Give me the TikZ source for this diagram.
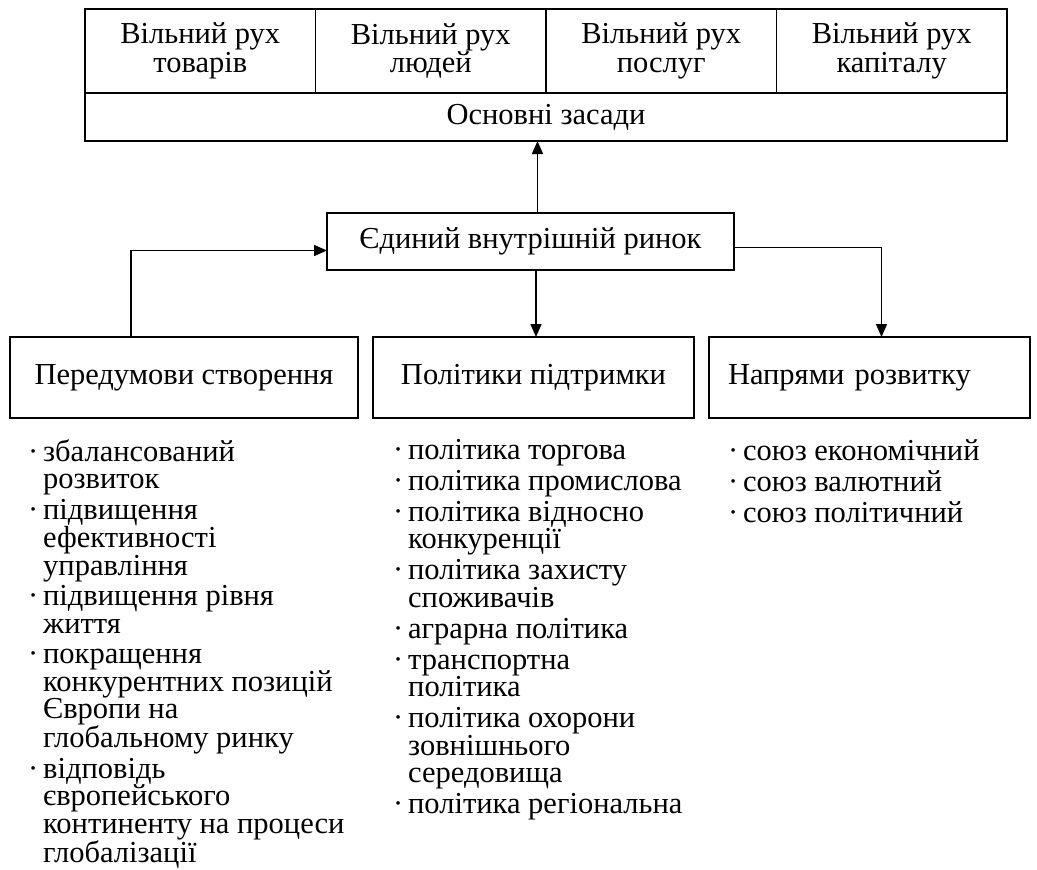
\documentclass[tikz,border=0pt]{standalone}
\usepackage{fontspec}
\setmainfont{Liberation Serif}
\usepackage{tikz}
\usetikzlibrary{arrows.meta, positioning, calc}
\newcommand{\txtsize}{\fontsize{30.5pt}{27.5pt}\selectfont}
\newcommand{\ldot}{\makebox[15pt][l]{·}}
\newcommand{\lgap}{\hspace*{15pt}}
\tikzset{
    cell/.style={rectangle, draw, line width=1.6pt, outer sep=0pt, inner sep=0pt, minimum width=230.5pt, minimum height=84pt, align=center, font=\txtsize},
    baserow/.style={rectangle, draw, line width=1.6pt, outer sep=0pt, inner sep=0pt, minimum width=922pt, minimum height=48pt, font=\txtsize},
    hub/.style={rectangle, draw, line width=1.6pt, outer sep=0pt, minimum width=407pt, minimum height=57pt, font=\txtsize},
    branch/.style={rectangle, draw, line width=1.6pt, outer sep=0pt, minimum width=321pt, minimum height=81pt, font=\txtsize},
    items/.style={inner sep=0pt, align=left, font=\txtsize},
    arrow/.style={-{Triangle[length=13pt, width=11pt]}, line width=1.5pt},
}

\begin{document}
\begin{tikzpicture}[x=1pt, y=-1pt]
    \useasboundingbox (0,0) rectangle (1037,870);

    % Four freedoms
    \node[cell, anchor=north west] (goods) at (85,9) {Вільний рух\\[1pt]товарів};
    \node[cell, right=0pt of goods] (people) {Вільний рух\\[1pt]людей};
    \node[cell, right=0pt of people] (services) {Вільний рух\\[1pt]послуг};
    \node[cell, right=0pt of services] (capital) {Вільний рух\\[1pt]капіталу};
    \node[baserow, below=0pt of goods.south west, anchor=north west] (basis) {Основні засади};

    % Single market
    \node[hub] (market) at (530.5,241.5) {Єдиний внутрішній ринок};

    % Three branches
    \node[branch, minimum width=348pt] (prereq) at (184,377.5) {Передумови створення};
    \node[branch, right=15pt of prereq] (policy) {Політики підтримки};
    \node[branch, right=15pt of policy, text width=283pt, inner xsep=19pt, align=left] (goal) {Напрями розвитку};

    % Lists
    \node[items, anchor=north west] (prelist) at (28,439) {\ldot збалансований\\ \lgap розвиток\\[3pt]
        \ldot підвищення\\ \lgap ефективності\\ \lgap управління\\[3pt]
        \ldot підвищення рівня\\ \lgap життя\\[3pt]
        \ldot покращення\\ \lgap конкурентних позицій\\ \lgap Європи на\\ \lgap глобальному ринку\\[3pt]
        \ldot відповідь\\ \lgap європейського\\ \lgap континенту на процеси\\ \lgap глобалізації};
    \node[items, anchor=north west] (polist) at (393,439) {\ldot політика торгова\\[3.5pt]
        \ldot політика промислова\\[3.5pt]
        \ldot політика відносно\\ \lgap конкуренції\\[3.5pt]
        \ldot політика захисту\\ \lgap споживачів\\[3.5pt]
        \ldot аграрна політика\\[3.5pt]
        \ldot транспортна\\ \lgap політика\\[3.5pt]
        \ldot політика охорони\\ \lgap зовнішнього\\ \lgap середовища\\[3.5pt]
        \ldot політика регіональна};
    \node[items, anchor=north west] (goalist) at (728,439) {\ldot союз економічний\\[3.5pt]
        \ldot союз валютний\\[3.5pt]
        \ldot союз політичний};

    % Arrows
    \coordinate (upfoot) at ([xshift=7pt]market.north);
    \coordinate (downfoot) at ([xshift=5.5pt]market.south);
    \draw[arrow] (upfoot) -- (upfoot |- basis.south);
    \draw[arrow] ([xshift=-53pt]prereq.north) |- ([yshift=-9pt]market.west);
    \draw[arrow] (downfoot) -- (downfoot |- policy.north);
    \draw[arrow] ([yshift=-6pt]market.east) -| ([xshift=12pt]goal.north);
\end{tikzpicture}
\end{document}
